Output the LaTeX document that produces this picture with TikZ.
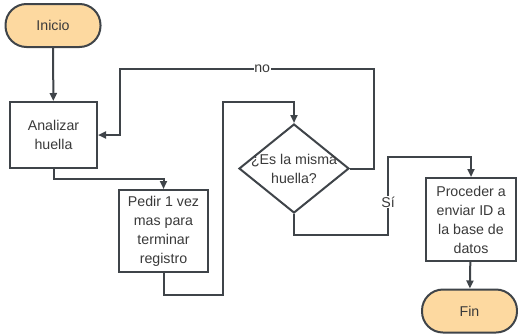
\documentclass[tikz,border=0pt]{standalone}
\usepackage{fontspec}
\setmainfont{Liberation Sans}
\usetikzlibrary{shapes.geometric,arrows.meta}
\definecolor{ln}{HTML}{3F4449}
\definecolor{tx}{HTML}{3A3A3A}
\definecolor{pill}{HTML}{FDD9A0}
\begin{document}
\begin{tikzpicture}[x=1pt,y=-1pt,
  font=\fontsize{14.2}{19}\selectfont,
  every node/.style={text=tx},
  term/.style={draw=ln, line width=2pt, fill=pill, rounded corners=21pt, minimum width=95pt, minimum height=43pt, inner sep=0pt},
  box/.style={draw=ln, line width=2pt, fill=white, align=center, inner sep=0pt},
  dia/.style={draw=ln, line width=2pt, fill=white, diamond, inner sep=0pt, minimum width=110pt, minimum height=89pt},
  arr/.style={draw=ln, line width=2pt, -{Triangle[length=8pt,width=7pt]}},
  lbl/.style={fill=white, inner sep=0.5pt}]
\useasboundingbox (0,0) rectangle (518,335);
\node[term] (inicio) at (53,25.5) {Inicio};
\node[box, minimum width=87pt, minimum height=66pt] (analizar) at (53.5,135) {Analizar\\huella};
\node[box, minimum width=89pt, minimum height=82pt] (pedir) at (163.5,231) {Pedir 1 vez\\mas para\\terminar\\registro};
\node[dia] (d) at (294,168.5) {};
\node[align=center, inner sep=0pt] (dt) at (294,169) {¿Es la misma\\huella?};
\node[box, minimum width=90pt, minimum height=83pt] (proc) at (471,219.5) {Proceder a\\enviar ID a\\la base de\\datos};
\node[term] (fin) at (469.5,311) {Fin};
\draw[arr] (inicio) -- (analizar);
\draw[arr] (analizar.south) |- (163.5,179) -- (pedir.north);
\draw[arr] (pedir.south) |- (223,295) -- (223,102) -| (d.north);
\draw[arr] (d.east) -- (374,168.5) -- (374,69) -- node[lbl, pos=0.44] (no) {no} (120,69) |- (analizar.east);
\draw[arr] (d.south) |- (388,235) -- node[lbl, pos=0.42] (si) {Sí} (388,157) -| (proc.north);
\draw[arr] (proc) -- (fin);
\end{tikzpicture}
\end{document}
